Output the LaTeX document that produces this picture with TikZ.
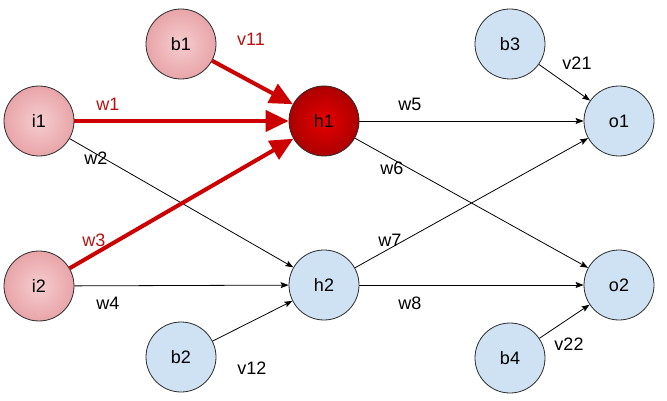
\documentclass[tikz,border=0pt]{standalone}
\usepackage{fontspec}
\setmainfont{Liberation Sans}
\usetikzlibrary{arrows.meta}
\definecolor{pinkin}{HTML}{F5CDCF}
\definecolor{pinkout}{HTML}{DC7C82}
\definecolor{redin}{HTML}{E80000}
\definecolor{redout}{HTML}{6E0000}
\definecolor{lblue}{HTML}{CFE2F3}
\definecolor{edgered}{HTML}{CC0000}
\definecolor{labred}{HTML}{B81010}
\definecolor{rim}{HTML}{2B2B2B}
\pgfdeclareradialshading{pinkball}{\pgfpoint{0bp}{0bp}}{color(0bp)=(pinkin); color(50bp)=(pinkout)}
\pgfdeclareradialshading{redball}{\pgfpoint{0bp}{0bp}}{color(0bp)=(redin); color(50bp)=(redout)}
\tikzset{
  neuron/.style={circle, draw=rim, line width=0.8pt, minimum size=70pt, inner sep=0pt, font=\fontsize{18}{21}\selectfont},
  pinkn/.style={neuron, shading=pinkball},
  redn/.style={neuron, shading=redball},
  bluen/.style={neuron, fill=lblue},
  thin edge/.style={line width=0.8pt, -{Stealth[length=8pt,width=6pt,inset=1.5pt]}},
  red edge/.style={draw=edgered, line width=4pt, -{Triangle[length=23pt,width=21pt]}},
  lab/.style={font=\fontsize{18}{21}\selectfont, inner sep=0pt},
  redlab/.style={lab, text=labred}
}
\begin{document}
\begin{tikzpicture}[x=1pt,y=-1pt]
\useasboundingbox (0,0) rectangle (667,401);
\node[pinkn] (i1) at (39,121) {i1};
\node[pinkn] (i2) at (39,286) {i2};
\node[pinkn] (b1) at (181,44) {b1};
\node[redn] (h1) at (324,121) {h1};
\node[bluen] (h2) at (324,285) {h2};
\node[bluen] (b2) at (181,357) {b2};
\node[bluen] (b3) at (510,44) {b3};
\node[bluen] (o1) at (619,121) {o1};
\node[bluen] (o2) at (619,285) {o2};
\node[bluen] (b4) at (510,358) {b4};

\draw[thin edge] (i1) -- (h2);
\draw[thin edge] (i2) -- (h2);
\draw[thin edge] (b2) -- (h2);
\draw[thin edge] (h1) -- (o1);
\draw[thin edge] (h1) -- (o2);
\draw[thin edge] (h2) -- (o1);
\draw[thin edge] (h2) -- (o2);
\draw[thin edge] (b3) -- (o1);
\draw[thin edge] (b4) -- (o2);
\draw[red edge] (i1) -- (h1);
\draw[red edge] (i2) -- (h1);
\draw[red edge] (b1) -- (h1);

\node[redlab] (lw1) at (108,104) {w1};
\node[lab] (lw2) at (96,158) {w2};
\node[redlab] (lw3) at (94,240) {w3};
\node[lab] (lw4) at (108,303) {w4};
\node[redlab] (lv11) at (251,39) {v11};
\node[lab] (lv12) at (252,368) {v12};
\node[lab] (lw5) at (410,104) {w5};
\node[lab] (lw6) at (392,168) {w6};
\node[lab] (lw7) at (390,240) {w7};
\node[lab] (lw8) at (410,303) {w8};
\node[lab] (lv21) at (577,63) {v21};
\node[lab] (lv22) at (569,344) {v22};
\end{tikzpicture}
\end{document}
